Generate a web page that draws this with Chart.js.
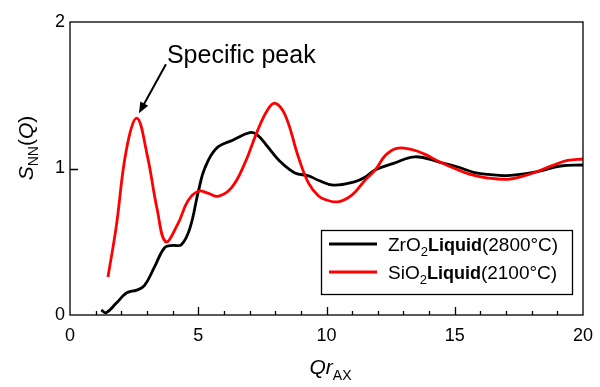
<!DOCTYPE html>
<html>
<head>
<meta charset="utf-8">
<script src="https://cdn.jsdelivr.net/npm/chart.js@4/dist/chart.umd.min.js"></script>
<style>
  html, body { margin: 0; padding: 0; background: #fff; }
  #wrap { width: 600px; height: 387px; position: relative; }
</style>
</head>
<body>
<div id="wrap"><canvas id="graph"></canvas></div>
<script>
// ZrO2 liquid (2800 C)
var zrX = [1.22, 1.41, 1.8, 2.2, 2.6, 2.9, 3.3, 3.69, 4.0, 4.34, 4.67, 5.0, 5.25, 5.71, 6.36, 7.01, 7.3, 7.7, 8.18, 8.77, 9.3, 9.68, 10.27, 11.11, 11.5, 11.89, 12.61, 13.46, 14.43, 15.09, 15.73, 16.3, 17.04, 18.21, 19.12, 20.0];
var zrY = [0.034, 0.016, 0.08, 0.15, 0.17, 0.2, 0.33, 0.46, 0.475, 0.48, 0.59, 0.84, 1.0, 1.138, 1.195, 1.245, 1.23, 1.15, 1.05, 0.97, 0.95, 0.92, 0.887, 0.91, 0.94, 0.99, 1.035, 1.08, 1.042, 1.012, 0.974, 0.96, 0.951, 0.978, 1.017, 1.024];

// SiO2 liquid (2100 C)
var siX = [1.48, 1.8, 2.2, 2.61, 3.0, 3.4, 3.73, 4.2, 4.6, 5.0, 5.4, 5.77, 6.3, 6.8, 7.27, 7.7, 8.01, 8.4, 8.9, 9.3, 9.7, 10.0, 10.46, 11.0, 11.5, 11.9, 12.3, 12.74, 13.3, 13.8, 14.4, 15.0, 15.6, 16.3, 17.04, 17.6, 18.2, 18.8, 19.4, 20.0];
var siY = [0.26, 0.6, 1.13, 1.343, 1.1, 0.72, 0.5, 0.62, 0.78, 0.845, 0.83, 0.81, 0.87, 1.03, 1.24, 1.4, 1.445, 1.36, 1.08, 0.9, 0.81, 0.785, 0.773, 0.82, 0.92, 0.99, 1.09, 1.138, 1.13, 1.1, 1.046, 1.0, 0.96, 0.935, 0.926, 0.945, 0.978, 1.02, 1.055, 1.065];

var xTicks = [0, 5, 10, 15, 20];
var yTicks = [0, 1, 2];
var peakLabel = "Specific peak";
var peakAt = [2.61, 1.343];

var FONT = "'Liberation Sans', Arial, sans-serif";

function toPoints(xs, ys) {
    return xs.map(function (x, i) { return {x: x, y: ys[i]}; });
}

// draws the frame, inward ticks, axis titles, legend and the arrow note
var decorations = {
    id: 'decorations',
    afterDatasetsDraw: function (chart) {
        var ctx = chart.ctx;
        var a = chart.chartArea;
        var sx = chart.scales.x, sy = chart.scales.y;
        ctx.save();

        ctx.strokeStyle = '#000';
        ctx.lineWidth = 1.3;
        ctx.strokeRect(a.left, a.top, a.right - a.left, a.bottom - a.top);

        // x ticks: minor every 1, longer at multiples of 5
        ctx.beginPath();
        for (var v = 1; v < 20; v++) {
            var px = Math.round(sx.getPixelForValue(v)) + 0.5;
            var len = (v % 5 === 0) ? 8 : 4;
            ctx.moveTo(px, a.bottom);
            ctx.lineTo(px, a.bottom - len);
        }
        // y tick at 1
        var py = Math.round(sy.getPixelForValue(1)) + 0.5;
        ctx.moveTo(a.left, py);
        ctx.lineTo(a.left + 8, py);
        ctx.stroke();

        // x title Qr_AX
        ctx.fillStyle = '#000';
        ctx.textBaseline = 'alphabetic';
        var cx = (a.left + a.right) / 2;
        ctx.font = 'italic 21px ' + FONT;
        var w1 = ctx.measureText('Qr').width;
        ctx.font = '14px ' + FONT;
        var w2 = ctx.measureText('AX').width;
        var x0 = cx - (w1 + w2) / 2 + 4;
        ctx.font = 'italic 21px ' + FONT;
        ctx.fillText('Qr', x0, 374);
        ctx.font = '14px ' + FONT;
        ctx.fillText('AX', x0 + w1, 380);

        // y title S_NN(Q)
        ctx.save();
        ctx.translate(33, 148);
        ctx.rotate(-Math.PI / 2);
        var parts = [
            ['italic 21px ', 'S', 0],
            ['14px ', 'NN', 5],
            ['21px ', '(', 0],
            ['italic 21px ', 'Q', 0],
            ['21px ', ')', 0]
        ];
        var total = 0;
        parts.forEach(function (p) { ctx.font = p[0] + FONT; total += ctx.measureText(p[1]).width; });
        var tx = -total / 2;
        parts.forEach(function (p) {
            ctx.font = p[0] + FONT;
            ctx.fillText(p[1], tx, p[2]);
            tx += ctx.measureText(p[1]).width;
        });
        ctx.restore();

        // legend box
        var lx = 321, ly = 230, lw = 251, lh = 64;
        ctx.fillStyle = '#fff';
        ctx.fillRect(lx, ly, lw, lh);
        ctx.lineWidth = 1.3;
        ctx.strokeRect(lx + 0.5, ly + 0.5, lw, lh);
        var entries = [
            [chart.data.datasets[1], 'ZrO', '2800°C', ly + 14],
            [chart.data.datasets[0], 'SiO', '2100°C', ly + 42]
        ];
        entries.forEach(function (e) {
            ctx.strokeStyle = e[0].borderColor;
            ctx.lineWidth = 2.8;
            ctx.beginPath();
            ctx.moveTo(lx + 8, e[3]);
            ctx.lineTo(lx + 56, e[3]);
            ctx.stroke();
            ctx.fillStyle = '#000';
            var t = lx + 67, base = e[3] + 7;
            ctx.font = '19px ' + FONT;
            ctx.fillText(e[1], t, base);
            t += ctx.measureText(e[1]).width;
            ctx.font = '13px ' + FONT;
            ctx.fillText('2', t, base + 5);
            t += ctx.measureText('2').width;
            ctx.font = '600 18px ' + FONT;
            ctx.fillText('Liquid', t, base);
            t += ctx.measureText('Liquid').width;
            ctx.font = '19px ' + FONT;
            ctx.fillText('(' + e[2] + ')', t, base);
        });

        // note with arrow to the first SiO2 peak
        var tipX = sx.getPixelForValue(peakAt[0]) + 2;
        var tipY = sy.getPixelForValue(peakAt[1]) - 5;
        var tailX = tipX + 27, tailY = tipY - 49;
        ctx.strokeStyle = '#000';
        ctx.fillStyle = '#000';
        ctx.lineWidth = 2;
        var ang = Math.atan2(tipY - tailY, tipX - tailX);
        ctx.beginPath();
        ctx.moveTo(tailX, tailY);
        ctx.lineTo(tipX - 8 * Math.cos(ang), tipY - 8 * Math.sin(ang));
        ctx.stroke();
        ctx.beginPath();
        ctx.moveTo(tipX, tipY);
        ctx.lineTo(tipX - 11 * Math.cos(ang) + 4.5 * Math.sin(ang), tipY - 11 * Math.sin(ang) - 4.5 * Math.cos(ang));
        ctx.lineTo(tipX - 11 * Math.cos(ang) - 4.5 * Math.sin(ang), tipY - 11 * Math.sin(ang) + 4.5 * Math.cos(ang));
        ctx.closePath();
        ctx.fill();
        ctx.font = '25px ' + FONT;
        ctx.fillText(peakLabel, tailX + 1, tailY - 1);

        ctx.restore();
    }
};

var ctx = document.getElementById('graph').getContext('2d');
var chart = new Chart(ctx, {
    type: 'line',
    data: {
        datasets: [{
            label: 'SiO2Liquid(2100°C)',
            data: toPoints(siX, siY),
            borderColor: 'rgb(255, 0, 0)',
            borderWidth: 2.8,
            pointRadius: 0,
            tension: 0.4,
            fill: false
        }, {
            label: 'ZrO2Liquid(2800°C)',
            data: toPoints(zrX, zrY),
            borderColor: 'rgb(0, 0, 0)',
            borderWidth: 2.8,
            pointRadius: 0,
            tension: 0.4,
            fill: false
        }]
    },
    options: {
        responsive: true,
        maintainAspectRatio: false,
        animation: false,
        layout: {padding: {top: 22, right: 17, left: 0, bottom: 0}},
        plugins: {legend: {display: false}, tooltip: {enabled: false}},
        scales: {
            x: {
                type: 'linear', min: 0, max: 20,
                afterFit: function (s) { s.height = 72; s.paddingLeft = 0; s.paddingRight = 0; },
                afterBuildTicks: function (s) { s.ticks = xTicks.map(function (v) { return {value: v}; }); },
                grid: {display: false, drawTicks: false},
                border: {display: false},
                ticks: {padding: 10, maxRotation: 0, color: '#000', font: {family: FONT, size: 18}}
            },
            y: {
                type: 'linear', min: 0, max: 2,
                afterFit: function (s) { s.width = 70; s.paddingTop = 0; s.paddingBottom = 0; },
                afterBuildTicks: function (s) { s.ticks = yTicks.map(function (v) { return {value: v}; }); },
                grid: {display: false, drawTicks: false},
                border: {display: false},
                ticks: {padding: 5, color: '#000', font: {family: FONT, size: 18}}
            }
        }
    },
    plugins: [decorations]
});
</script>
</body>
</html>
